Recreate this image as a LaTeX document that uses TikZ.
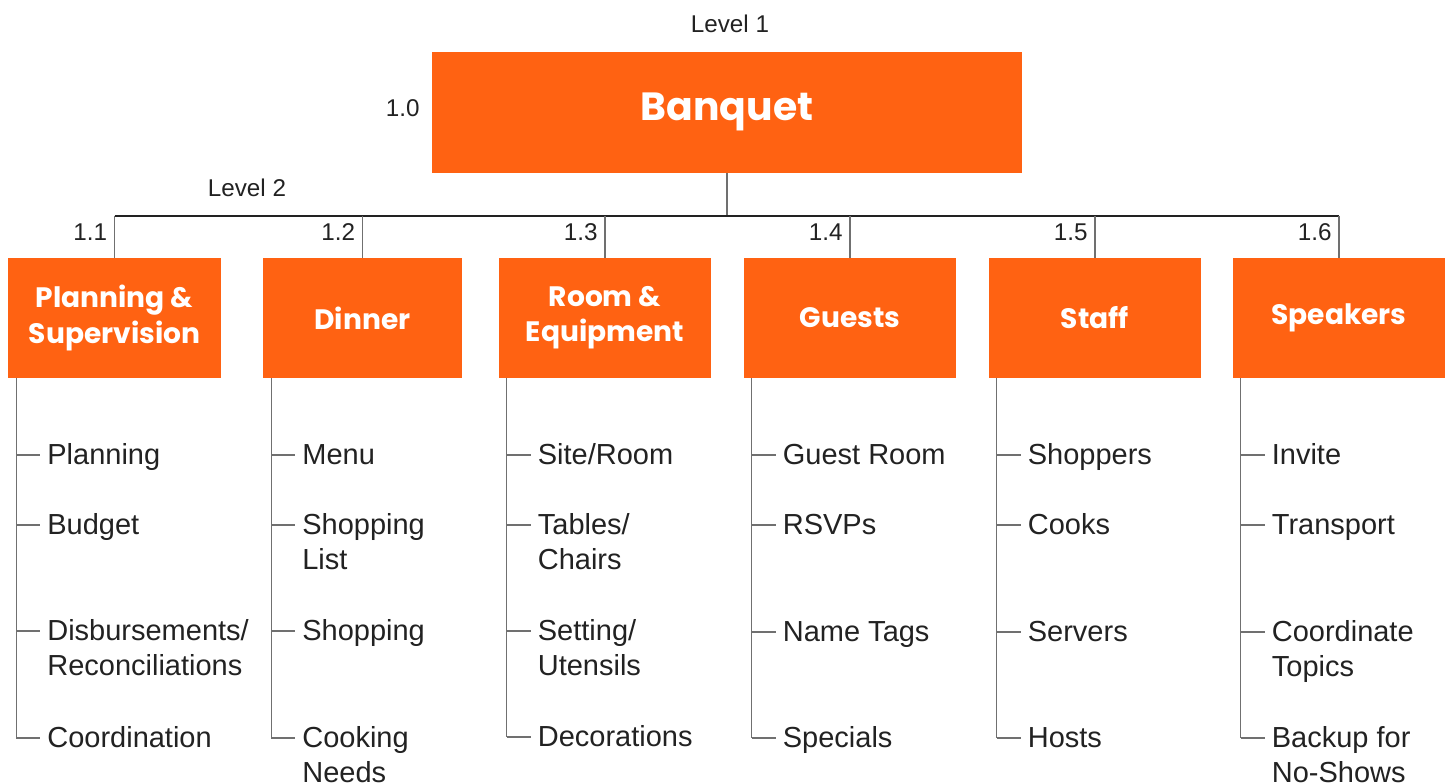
\documentclass[tikz,border=0pt]{standalone}
\usepackage{fontspec}
\setmainfont{Liberation Sans}
\newfontfamily\headfont{Poppins}
\usetikzlibrary{positioning,calc}
\definecolor{wbsorange}{HTML}{FF6212}
\definecolor{ink}{HTML}{222222}
\definecolor{muted}{HTML}{707070}
% item text whose baseline is the one of its first line
\newcommand\wbsitem[1]{\begin{tabular}[t]{@{}l@{}}#1\end{tabular}}
\tikzset{
  every node/.style={text=ink},
  lvl/.style={font=\fontsize{13.8}{16}\selectfont,inner sep=0pt},
  topbox/.style={fill=wbsorange,text=white,minimum width=11.8cm,minimum height=2.42cm,
    font=\headfont\bfseries\fontsize{22.4}{27}\selectfont},
  subbox/.style={fill=wbsorange,text=white,align=center,minimum width=4.26cm,
    minimum height=2.4cm,font=\headfont\bfseries\fontsize{16}{20}\selectfont},
  leaf/.style={anchor=base west,inner sep=0pt,outer xsep=4pt,
    font=\fontsize{16.5}{20}\selectfont},
  bus/.style={draw=ink,line width=.6pt},
  rule/.style={draw=muted,line width=.6pt}}

\begin{document}
\begin{tikzpicture}[x=0.02cm,y=-0.02cm]
\useasboundingbox (0,0) rectangle (1448,784);
% level 1
\node[lvl] (lv1) at (730,24) {Level 1};
\node[topbox] (root) at (727,112.3) {Banquet};
\node[lvl,anchor=east] (n0) at (420,108) {1.0};
% level 2
\node[lvl] (lv2) at (247,188) {Level 2};
\node[subbox] (b1) at (114.5,318) {Planning \&\\Supervision};
\node[subbox,minimum width=3.98cm] (b2) at (362.5,318) {Dinner};
\node[subbox] (b3) at (605,318) {Room \&\\Equipment};
\node[subbox] (b4) at (850,318) {Guests};
\node[subbox] (b5) at (1095,318) {Staff};
\node[subbox] (b6) at (1339,318) {Speakers};
\coordinate (bus) at (727,216);
\draw[rule] (root.south) -- (root.south |- bus);
\draw[bus] (b1.north |- bus) -- (b6.north |- bus);
\foreach \i in {1,...,6}{
  \draw[rule] (b\i.north |- bus) -- (b\i.north);
  \node[lvl,anchor=east] (n\i) at ([xshift=-4pt]b\i.north |- 0,232) {1.\i};
  \coordinate (sp\i) at ([xshift=5pt]b\i.south west);}
% work packages under each box
\foreach \y/\t [count=\j] in {455/Planning,525/Budget,631/{Disbursements/\\Reconciliations},738/Coordination}{
  \coordinate (c1\j) at (sp1 |- 0,\y);
  \node[leaf] (l1\j) at ([xshift=13.6pt,yshift=-5.4pt]c1\j) {\wbsitem{\t}};
  \draw[rule] (c1\j) -- (c1\j -| l1\j.west);}
\foreach \y/\t [count=\j] in {455/Menu,525/{Shopping\\List},631/Shopping,738/{Cooking\\Needs}}{
  \coordinate (c2\j) at (sp2 |- 0,\y);
  \node[leaf] (l2\j) at ([xshift=13.6pt,yshift=-5.4pt]c2\j) {\wbsitem{\t}};
  \draw[rule] (c2\j) -- (c2\j -| l2\j.west);}
\foreach \y/\t [count=\j] in {455/{Site/Room},525/{Tables/\\Chairs},631/{Setting/\\Utensils},737/Decorations}{
  \coordinate (c3\j) at (sp3 |- 0,\y);
  \node[leaf] (l3\j) at ([xshift=13.6pt,yshift=-5.4pt]c3\j) {\wbsitem{\t}};
  \draw[rule] (c3\j) -- (c3\j -| l3\j.west);}
\foreach \y/\t [count=\j] in {455/Guest Room,525/RSVPs,632/Name Tags,738/Specials}{
  \coordinate (c4\j) at (sp4 |- 0,\y);
  \node[leaf] (l4\j) at ([xshift=13.6pt,yshift=-5.4pt]c4\j) {\wbsitem{\t}};
  \draw[rule] (c4\j) -- (c4\j -| l4\j.west);}
\foreach \y/\t [count=\j] in {455/Shoppers,525/Cooks,632/Servers,738/Hosts}{
  \coordinate (c5\j) at (sp5 |- 0,\y);
  \node[leaf] (l5\j) at ([xshift=13.6pt,yshift=-5.4pt]c5\j) {\wbsitem{\t}};
  \draw[rule] (c5\j) -- (c5\j -| l5\j.west);}
\foreach \y/\t [count=\j] in {455/Invite,525/Transport,632/{Coordinate\\Topics},738/{Backup for\\No-Shows}}{
  \coordinate (c6\j) at (sp6 |- 0,\y);
  \node[leaf] (l6\j) at ([xshift=13.6pt,yshift=-5.4pt]c6\j) {\wbsitem{\t}};
  \draw[rule] (c6\j) -- (c6\j -| l6\j.west);}
\foreach \i in {1,...,6} \draw[rule] (sp\i) -- (c\i4);
\end{tikzpicture}
\end{document}
